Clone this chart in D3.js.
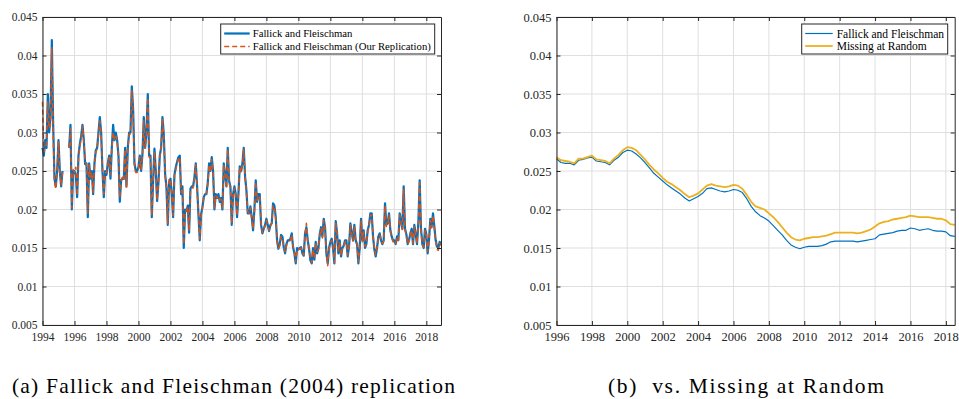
<!DOCTYPE html>
<html><head><meta charset="utf-8">
<script src="https://cdn.jsdelivr.net/npm/d3@7"></script>
<style>
html,body{margin:0;padding:0;background:#fff;}
svg{display:block;}
svg text{font-family:"Liberation Serif","DejaVu Serif",serif;}
</style>
</head><body>
<svg id="chart" width="959" height="399"></svg>
<script>
// ---------- DATA ----------
// Panel (a): monthly series starting Jan 1994
const startYearA = 1994;
const ffMonthly = [
0.028,0.027,0.029,0.028,0.035,0.030,0.032,0.042,0.031,0.024,0.023,0.025,
0.029,0.025,0.023,0.025,null,null,null,null,0.028,0.031,0.020,0.025,
0.025,0.0245,0.0216,0.027,0.0285,0.0295,0.031,0.029,0.0259,0.026,0.019,0.026,
0.024,0.025,0.022,0.026,0.0277,0.028,0.030,0.032,0.030,0.025,0.0216,0.025,
0.0245,0.026,0.027,0.024,0.028,0.031,0.029,0.030,0.029,0.027,0.021,0.0238,
0.024,0.024,0.028,0.023,0.028,0.030,0.030,0.036,0.033,0.026,0.025,0.025,
0.0255,0.027,0.025,0.0272,0.032,0.028,0.030,0.035,0.027,0.027,0.019,0.0237,
0.0279,0.025,0.0211,0.0235,0.027,0.028,0.032,0.0298,0.0246,0.0229,0.018,0.0235,
0.024,0.022,0.019,0.0245,0.0255,0.0262,0.0268,0.027,0.022,0.023,0.015,0.020,
0.0198,0.0205,0.017,0.0227,0.023,0.023,0.0242,0.026,0.023,0.0194,0.016,0.0194,
0.0203,0.0216,0.022,0.022,0.0235,0.026,0.025,0.0268,0.025,0.020,0.022,0.0215,
0.022,0.021,0.0215,0.020,0.026,0.0245,0.023,0.028,0.0237,0.023,0.018,0.022,
0.023,0.022,0.019,0.022,0.0256,0.025,0.026,0.028,0.0243,0.0225,0.0195,0.0195,
0.0204,0.019,0.0173,0.020,0.0238,0.021,0.022,0.022,0.018,0.0169,0.0175,0.018,
0.0188,0.018,0.0172,0.018,0.0182,0.0208,0.0205,0.019,0.016,0.0149,0.0155,0.0167,
0.0165,0.0151,0.0143,0.0155,0.016,0.016,0.0162,0.0169,0.0151,0.0143,0.013,0.015,
0.0148,0.015,0.0151,0.0143,0.014,0.0169,0.0177,0.016,0.0149,0.0134,0.013,0.015,
0.0135,0.0158,0.0143,0.0149,0.0168,0.0177,0.0165,0.0188,0.0177,0.0143,0.013,0.015,
0.0158,0.0162,0.015,0.013,0.0185,0.017,0.0143,0.016,0.0139,0.015,0.0153,0.016,
0.016,0.0139,0.0152,0.0182,0.017,0.016,0.018,0.016,0.0155,0.013,0.015,0.0188,
0.016,0.0173,0.015,0.0155,0.0173,0.018,0.0195,0.0195,0.0165,0.0148,0.0139,0.015,
0.0165,0.0169,0.016,0.0155,0.016,0.0208,0.018,0.0182,0.0195,0.0173,0.0165,0.016,
0.016,0.0155,0.0165,0.016,0.0195,0.0185,0.0175,0.023,0.0175,0.0168,0.0155,0.016,
0.0169,0.0175,0.0155,0.018,0.0168,0.0155,0.0182,0.0238,0.0175,0.0155,0.015,0.0175,
0.0168,0.0143,0.016,0.0188,0.0178,0.0195,0.0178,0.016,0.0152,0.015,0.0158,0.0155
];
const replMonthly = [
0.034,0.0275,0.028,0.0285,0.034,0.0305,0.031,0.041,0.030,0.0235,0.0227,0.0252,
0.0288,0.0248,0.0232,0.0248,null,null,null,null,0.028,0.0305,0.0202,0.0252,
0.0248,0.0255,0.0218,0.0268,0.0282,0.0292,0.0308,0.0288,0.0262,0.0258,0.0195,0.0258,
0.0242,0.0248,0.0222,0.0258,0.0275,0.0278,0.0298,0.0315,0.0298,0.0252,0.022,0.0248,
0.0248,0.0258,0.0268,0.0245,0.0278,0.030,0.029,0.0295,0.029,0.0268,0.0215,0.0238,
0.0242,0.0238,0.0278,0.0228,0.0278,0.0298,0.0298,0.0355,0.0325,0.0258,0.0248,0.0248,
0.0252,0.0268,0.0252,0.0270,0.0315,0.028,0.0298,0.0345,0.0268,0.0268,0.0192,0.0238,
0.0275,0.0248,0.0212,0.0235,0.0268,0.0278,0.0318,0.0295,0.0245,0.0228,0.0182,0.024,
0.0238,0.0222,0.0192,0.0245,0.0252,0.026,0.0265,0.0268,0.0222,0.0228,0.0155,0.0198,
0.0198,0.0203,0.0172,0.0225,0.0228,0.0228,0.024,0.0258,0.0228,0.0195,0.0162,0.0192,
0.0203,0.0215,0.0218,0.0222,0.0232,0.0258,0.0248,0.0265,0.0248,0.0202,0.0218,0.0215,
0.0218,0.0212,0.0213,0.0202,0.0258,0.0243,0.0228,0.0278,0.0235,0.0228,0.0182,0.0218,
0.0228,0.0218,0.0192,0.022,0.0255,0.0248,0.0258,0.0278,0.0242,0.0222,0.0197,0.0195,
0.0202,0.0188,0.0175,0.0198,0.0236,0.0212,0.0218,0.0218,0.0182,0.017,0.0175,0.0178,
0.0186,0.0178,0.0173,0.0178,0.0182,0.0205,0.0203,0.0188,0.0158,0.015,0.0153,0.0165,
0.0163,0.0152,0.0145,0.0153,0.0158,0.0159,0.016,0.0167,0.0152,0.0145,0.0132,0.0148,
0.0148,0.0149,0.015,0.0145,0.0141,0.0167,0.0182,0.0159,0.015,0.0136,0.0131,0.0148,
0.0137,0.0157,0.0145,0.0148,0.0166,0.0175,0.0163,0.0186,0.0175,0.0145,0.0127,0.0149,
0.0157,0.016,0.0152,0.0131,0.0182,0.0169,0.0145,0.0158,0.014,0.0149,0.0152,0.0158,
0.0158,0.0141,0.0152,0.018,0.0168,0.0159,0.0178,0.0158,0.0155,0.0132,0.0149,0.0185,
0.0158,0.0171,0.0152,0.0155,0.0171,0.0178,0.0193,0.0193,0.0165,0.015,0.0141,0.015,
0.0163,0.0167,0.016,0.0156,0.0159,0.0205,0.0178,0.018,0.0193,0.0172,0.0164,0.0158,
0.0159,0.0156,0.0163,0.016,0.0193,0.0183,0.0174,0.0226,0.0174,0.0166,0.0155,0.0159,
0.0167,0.0173,0.0156,0.0178,0.0167,0.0156,0.018,0.0235,0.0173,0.0155,0.0151,0.0173,
0.0166,0.0145,0.0159,0.0186,0.0176,0.0192,0.0176,0.0159,0.0148,0.0147,0.0156,0.0153
];

// Panel (b): quarterly series starting 1996
const startYearB = 1996;
const ffSmooth = [
0.0266,0.0261,0.0260,0.0260,
0.0258,0.0264,0.0265,0.0267,
0.0268,0.0263,0.0262,0.0261,
0.0258,0.0264,0.0268,0.0274,
0.0277,0.0276,0.0272,0.0267,
0.0261,0.0254,0.0247,0.0242,
0.0237,0.0232,0.0228,0.0224,
0.0220,0.0215,0.0211,0.0214,
0.0217,0.0221,0.0227,0.0228,
0.0226,0.0224,0.0223,0.0224,
0.0226,0.0225,0.0222,0.0214,
0.0204,0.0197,0.0192,0.0189,
0.0185,0.0179,0.0173,0.0167,
0.0160,0.0154,0.0151,0.0149,
0.0151,0.0152,0.0152,0.0152,
0.0153,0.0155,0.0158,0.0159,
0.0159,0.0159,0.0159,0.0159,
0.0158,0.0159,0.0160,0.0161,
0.0162,0.0167,0.0168,0.0169,
0.0170,0.0172,0.0173,0.0173,
0.0176,0.0175,0.0173,0.0174,
0.0175,0.0173,0.0172,0.0172,
0.0171,0.0166,0.0165
];
const marSmooth = [
0.0268,0.0264,0.0263,0.0262,
0.0260,0.0266,0.0266,0.0268,
0.0270,0.0265,0.0264,0.0263,
0.0260,0.0266,0.0271,0.0277,
0.0281,0.0280,0.0277,0.0271,
0.0265,0.0258,0.0252,0.0247,
0.0241,0.0236,0.0233,0.0229,
0.0225,0.0220,0.0216,0.0218,
0.0221,0.0226,0.0231,0.0233,
0.0231,0.0230,0.0229,0.0230,
0.0232,0.0231,0.0227,0.0219,
0.0210,0.0204,0.0202,0.0200,
0.0195,0.0190,0.0184,0.0177,
0.0170,0.0164,0.0161,0.0160,
0.0162,0.0163,0.0164,0.0164,
0.0165,0.0166,0.0168,0.0170,
0.0170,0.0170,0.0170,0.0170,
0.0169,0.0170,0.0172,0.0174,
0.0178,0.0182,0.0184,0.0185,
0.0187,0.0188,0.0189,0.0190,
0.0192,0.0191,0.0190,0.0190,
0.0190,0.0189,0.0188,0.0188,
0.0186,0.0181,0.0180
];

const yTicks = [0.005,0.01,0.015,0.02,0.025,0.03,0.035,0.04,0.045];
const yTickLabels = ["0.005","0.01","0.015","0.02","0.025","0.03","0.035","0.04","0.045"];
const xTicksA = [1994,1996,1998,2000,2002,2004,2006,2008,2010,2012,2014,2016,2018];
const xTicksB = [1996,1998,2000,2002,2004,2006,2008,2010,2012,2014,2016,2018];
const legendA = ["Fallick and Fleischman","Fallick and Fleischman (Our Replication)"];
const legendB = ["Fallick and Fleischman","Missing at Random"];
const captions = ["(a) Fallick and Fleischman (2004) replication","(b)\u00a0 vs. Missing at Random"];

const BLUE = "#0072BD", ORANGE = "#D95319", YELLOW = "#EDB120";
const SERIF = "Liberation Serif, DejaVu Serif, serif";

// ---------- DRAW ----------
const svg = d3.select("#chart");

function panel(opts){
  const g = svg.append("g").attr("transform", `translate(${opts.left},${opts.top})`);
  const w = opts.width, h = opts.height;
  const x = d3.scaleLinear().domain(opts.xDomain).range([0, w]);
  const y = d3.scaleLinear().domain([0.005, 0.045]).range([h, 0]);

  const grid = g.append("g");
  grid.selectAll("line.gx").data(opts.xTicks).join("line")
    .attr("x1", d => x(d)).attr("x2", d => x(d)).attr("y1", 0).attr("y2", h)
    .attr("stroke", "#dfdfdf").attr("stroke-width", 1);
  grid.selectAll("line.gy").data(yTicks).join("line")
    .attr("y1", d => y(d)).attr("y2", d => y(d)).attr("x1", 0).attr("x2", w)
    .attr("stroke", "#dfdfdf").attr("stroke-width", 1);

  opts.series.forEach(s => {
    const pts = s.values.map((v, i) => ({t: s.start + i * s.step, v}));
    const line = d3.line().defined(d => d.v != null).x(d => x(d.t)).y(d => y(d.v));
    g.append("path").datum(pts)
      .attr("fill", "none").attr("stroke", s.color).attr("stroke-width", s.width)
      .attr("stroke-linejoin", "round")
      .attr("stroke-dasharray", s.dash || null)
      .attr("d", line);
  });

  const fmt = (d) => yTickLabels[yTicks.indexOf(d)];
  const axB = g.append("g").attr("transform", `translate(0,${h})`)
    .call(d3.axisBottom(x).tickValues(opts.xTicks).tickFormat(d3.format("d"))
      .tickSizeInner(-4).tickSizeOuter(0).tickPadding(opts.xPad));
  const axL = g.append("g")
    .call(d3.axisLeft(y).tickValues(yTicks).tickFormat(fmt)
      .tickSizeInner(-4).tickSizeOuter(0).tickPadding(opts.yPad));
  const axT = g.append("g")
    .call(d3.axisTop(x).tickValues(opts.xTicks).tickFormat("")
      .tickSizeInner(-4).tickSizeOuter(0));
  const axR = g.append("g").attr("transform", `translate(${w},0)`)
    .call(d3.axisRight(y).tickValues(yTicks).tickFormat("")
      .tickSizeInner(-4).tickSizeOuter(0));
  [axB, axL, axT, axR].forEach(a => {
    a.attr("font-family", SERIF);
    a.selectAll(".domain").attr("stroke", "#262626").attr("stroke-width", 1);
    a.selectAll(".tick line").attr("stroke", "#262626").attr("stroke-width", 1);
    a.selectAll("text").attr("fill", "#262626").attr("font-family", SERIF)
      .attr("font-size", opts.tickFont);
  });

  const L = opts.legend;
  const lg = g.append("g").attr("transform", `translate(${L.x},${L.y})`);
  lg.append("rect").attr("width", L.w).attr("height", L.h)
    .attr("fill", "#fff").attr("stroke", "#262626").attr("stroke-width", 1);
  opts.series.forEach((s, i) => {
    const yy = L.rows[i];
    lg.append("line").attr("x1", L.lineX0).attr("x2", L.lineX1)
      .attr("y1", yy).attr("y2", yy)
      .attr("stroke", s.color).attr("stroke-width", s.width)
      .attr("stroke-dasharray", s.dash || null);
    lg.append("text").attr("x", L.textX).attr("y", yy).attr("dy", "0.35em")
      .attr("font-family", SERIF).attr("font-size", L.font)
      .attr("fill", "#000").text(L.labels[i]);
  });
  return {x, y};
}

panel({
  left: 42.5, top: 17, width: 398.5, height: 308,
  xDomain: [startYearA, startYearA + (ffMonthly.length - 1) / 12],
  xTicks: xTicksA, xPad: 7.5, yPad: 5, tickFont: 11.5,
  series: [
    {values: ffMonthly, start: startYearA, step: 1/12, color: BLUE, width: 2.2},
    {values: replMonthly, start: startYearA, step: 1/12, color: ORANGE, width: 1.5, dash: "5,3"}
  ],
  legend: {x: 178.2, y: 7, w: 214, h: 30, rows: [9.5, 22.5], lineX0: 3.5, lineX1: 29,
           textX: 32, font: 10.7, labels: legendA}
});

panel({
  left: 556.5, top: 17, width: 398.2, height: 308,
  xDomain: [startYearB, startYearB + (ffSmooth.length - 1) / 4],
  xTicks: xTicksB, xPad: 7.5, yPad: 5, tickFont: 12.5,
  series: [
    {values: ffSmooth, start: startYearB, step: 1/4, color: BLUE, width: 1.2},
    {values: marSmooth, start: startYearB, step: 1/4, color: YELLOW, width: 1.8}
  ],
  legend: {x: 245.2, y: 7, w: 146, h: 30, rows: [9.5, 22], lineX0: 3.5, lineX1: 31,
           textX: 35, font: 11.5, labels: legendB}
});

svg.append("text").attr("x", 12).attr("y", 393)
  .attr("textLength", 443).attr("lengthAdjust", "spacing")
  .attr("font-family", SERIF).attr("font-size", 21.5).attr("fill", "#000")
  .text(captions[0]);
svg.append("text").attr("x", 608).attr("y", 393)
  .attr("textLength", 276).attr("lengthAdjust", "spacing")
  .attr("font-family", SERIF).attr("font-size", 21.5).attr("fill", "#000")
  .text(captions[1]);
</script>
</body></html>
